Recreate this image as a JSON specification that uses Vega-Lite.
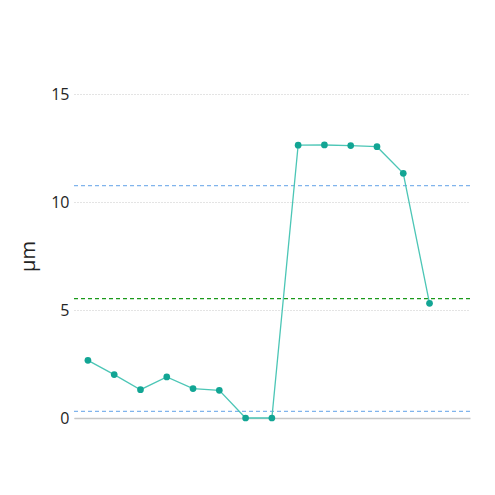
{
  "$schema": "https://vega.github.io/schema/vega-lite/v6.json",
  "width": 396,
  "height": 324,
  "autosize": "none",
  "padding": {"left": 74, "top": 94, "right": 25, "bottom": 77},
  "config": {
    "view": {"stroke": null},
    "font": "Open Sans",
    "axis": {"labelFont": "Open Sans", "titleFont": "Open Sans"}
  },
  "datasets": {
    "series": [
      {"idx": 1, "value": 2.67},
      {"idx": 2, "value": 2.01},
      {"idx": 3, "value": 1.31},
      {"idx": 4, "value": 1.9},
      {"idx": 5, "value": 1.36},
      {"idx": 6, "value": 1.28},
      {"idx": 7, "value": 0},
      {"idx": 8, "value": 0},
      {"idx": 9, "value": 12.63},
      {"idx": 10, "value": 12.64},
      {"idx": 11, "value": 12.61},
      {"idx": 12, "value": 12.56},
      {"idx": 13, "value": 11.33},
      {"idx": 14, "value": 5.31}
    ],
    "limits": [
      {"kind": "upper", "value": 10.76},
      {"kind": "mean", "value": 5.53},
      {"kind": "lower", "value": 0.31}
    ]
  },
  "layer": [
    {
      "data": {"name": "limits"},
      "transform": [{"filter": "datum.kind !== 'mean'"}],
      "mark": {"type": "rule", "strokeDash": [4, 3], "strokeWidth": 1.2, "stroke": "#80b4ec", "opacity": 1},
      "encoding": {
        "y": {"field": "value", "type": "quantitative", "scale": {"domain": [0, 15]}}
      }
    },
    {
      "data": {"name": "limits"},
      "transform": [{"filter": "datum.kind === 'mean'"}],
      "mark": {"type": "rule", "strokeDash": [4, 3], "strokeWidth": 1.2, "stroke": "#1a991a"},
      "encoding": {
        "y": {"field": "value", "type": "quantitative"}
      }
    },
    {
      "data": {"name": "series"},
      "mark": {"type": "line", "color": "#4cc6b6", "strokeWidth": 1.3},
      "encoding": {
        "x": {
          "field": "idx",
          "type": "quantitative",
          "scale": {"domain": [0.47, 15.54], "nice": false, "zero": false},
          "axis": {"labels": false, "ticks": false, "grid": false, "title": null, "domainColor": "#c8c8c8", "domainWidth": 1.5}
        },
        "y": {
          "field": "value",
          "type": "quantitative",
          "scale": {"domain": [0, 15], "nice": false},
          "axis": {
            "values": [0, 5, 10, 15],
            "title": "µm",
            "titleFontSize": 20,
            "titleFontWeight": "normal",
            "titleColor": "#222222",
            "titlePadding": 12,
            "labelFontSize": 16,
            "labelColor": "#252525",
            "labelPadding": 5,
            "ticks": false,
            "domain": false,
            "gridColor": "#c8c8c8",
            "gridDash": [1, 2],
            "gridWidth": 1
          }
        }
      }
    },
    {
      "data": {"name": "series"},
      "mark": {"type": "point", "filled": true, "size": 45, "opacity": 1, "color": "#12a594"},
      "encoding": {
        "x": {"field": "idx", "type": "quantitative"},
        "y": {"field": "value", "type": "quantitative"}
      }
    }
  ]
}
